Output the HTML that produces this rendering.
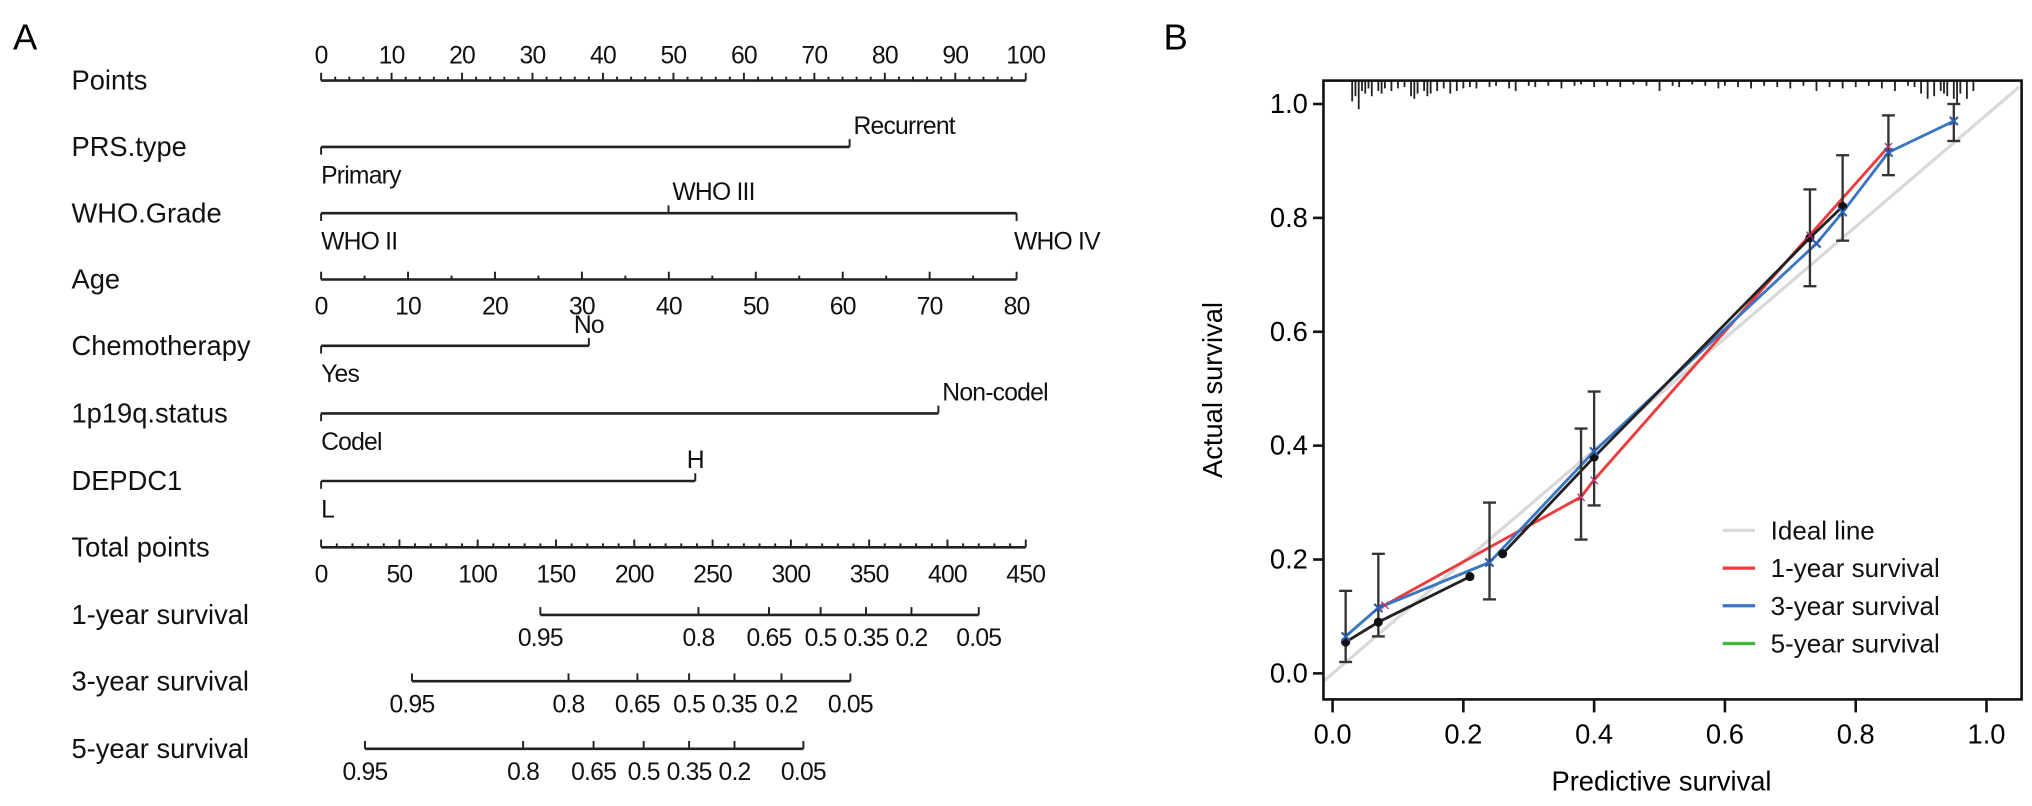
<!DOCTYPE html>
<html><head><meta charset="utf-8"><style>
html,body{margin:0;padding:0;background:#fff;}
svg{display:block;font-family:"Liberation Sans",Arial,sans-serif;}
</style></head><body>
<svg id="fig" width="2032" height="806" viewBox="0 0 1563 620" preserveAspectRatio="none" xmlns="http://www.w3.org/2000/svg">
<g id="nomo"></g>
<g id="cal"></g>
</svg>
<script>
// ---------- Nomogram data ----------
const rowLabels = ["Points","PRS.type","WHO.Grade","Age","Chemotherapy","1p19q.status","DEPDC1","Total points","1-year survival","3-year survival","5-year survival"];
const pointTicks = [0,10,20,30,40,50,60,70,80,90,100];
const prsPoints = [0,75];            const prsLabels = ["Primary","Recurrent"];
const whoPoints = [0,49.3,98.7];     const whoLabels = ["WHO II","WHO III","WHO IV"];
const ageTicks = [0,10,20,30,40,50,60,70,80];  const ageMaxPoints = 98.7;
const chemoPoints = [0,38];          const chemoLabels = ["Yes","No"];
const codelPoints = [0,87.6];        const codelLabels = ["Codel","Non-codel"];
const depdcPoints = [0,53.1];        const depdcLabels = ["L","H"];
const totalTicks = [0,50,100,150,200,250,300,350,400,450];
const survLabels = ["0.95","0.8","0.65","0.5","0.35","0.2","0.05"];
const surv1Total = [140,241,286,319,348,377,420];
const surv3Total = [58,158,202,235,264,294,338];
const surv5Total = [28,129,174,206,235,264,308];

// ---------- Calibration data ----------
const idealLine = [[-0.014,-0.014],[1.05,1.03]];
const rugX = [0.03,0.035,0.04,0.045,0.05,0.055,0.06,0.07,0.075,0.08,0.09,0.1,0.11,0.12,0.125,0.13,0.14,0.145,0.15,0.16,0.17,0.18,0.19,0.2,0.21,0.22,0.24,0.25,0.27,0.28,0.3,0.31,0.33,0.35,0.37,0.38,0.4,0.42,0.44,0.46,0.48,0.5,0.52,0.53,0.55,0.57,0.59,0.6,0.62,0.64,0.66,0.68,0.7,0.72,0.74,0.76,0.78,0.8,0.82,0.84,0.86,0.88,0.89,0.9,0.91,0.92,0.93,0.935,0.94,0.95,0.955,0.96,0.97,0.98];
const rugLen = [16,12,22,8,10,6,12,8,10,6,8,6,5,12,14,10,8,12,10,8,6,10,8,6,5,6,5,4,6,8,4,5,4,6,4,3,5,4,5,3,4,8,4,5,3,4,6,4,5,6,4,5,6,4,8,5,6,5,4,6,8,4,5,10,14,12,8,10,12,14,18,10,14,8];
const oneYear = [[0.08,0.12],[0.38,0.31],[0.40,0.34],[0.73,0.77],[0.85,0.925]];
const threeYear = [[0.02,0.065],[0.07,0.115],[0.24,0.195],[0.40,0.39],[0.74,0.755],[0.78,0.81],[0.85,0.915],[0.95,0.97]];
const apparent = [[0.02,0.055],[0.07,0.09],[0.21,0.17],null,[0.26,0.21],[0.40,0.38],[0.73,0.765],[0.78,0.82]];
const errX = [0.02,0.07,0.24,0.38,0.40,0.73,0.78,0.85,0.95];
const errLo = [0.02,0.065,0.13,0.235,0.295,0.68,0.76,0.875,0.935];
const errHi = [0.145,0.21,0.30,0.43,0.495,0.85,0.91,0.98,1.0];
const calTicks = [0,0.2,0.4,0.6,0.8,1.0];
const legendLabels = ["Ideal line","1-year survival","3-year survival","5-year survival"];
const legendColors = ["#d9d9d9","#ee3b3b","#3a76c4","#3cb83c"];

const NS="http://www.w3.org/2000/svg";
function mk(parent,tag,attrs,text){const e=document.createElementNS(NS,tag);for(const k in attrs)e.setAttribute(k,attrs[k]);if(text!==undefined)e.textContent=text;parent.appendChild(e);return e;}

// ---------- Panel A ----------
const A=document.getElementById('nomo');
let t=mk(A,'text',{x:10,y:38,'font-size':28});t.textContent="A";

const rowY=[62,113,164,215,266,318,370,421,473,524,576];
const px=p=>247+p*5.42;
const tx=v=>247+v*542/450;
rowLabels.forEach((l,i)=>{const e=mk(A,'text',{x:55,y:rowY[i]+7,'font-size':21,fill:'#111'},l);
});
const stroke={stroke:'#222','stroke-width':2,fill:'none'};
function hline(y,x1,x2){const e=mk(A,'line',Object.assign({x1:x1,x2:x2,y1:y,y2:y},stroke));}
function tick(x,y,len){const e=mk(A,'line',{x1:x,x2:x,y1:y,y2:y+len,stroke:'#222','stroke-width':1.5});}
function lab(x,y,s,anchor){const e=mk(A,'text',{x:x,y:y,'font-size':19,fill:'#111','text-anchor':anchor||'middle','letter-spacing':'-0.6'},s);}
hline(rowY[0],px(0),px(100));
for(let p=0;p<=100;p+=2)tick(px(p),rowY[0],p%10===0?-6:-3);
pointTicks.forEach(p=>lab(px(p),rowY[0]-13,String(p)));
function catRow(y,pts,labels){hline(y,px(pts[0]),px(pts[pts.length-1]));
 pts.forEach((p,i)=>{const up=(i===1);tick(px(p),y,up?-6:6);
  if(up)lab(px(p)+(labels[i].length>2?3:0),y-10,labels[i],labels[i].length>2?'start':'middle');
  else lab(px(p)+(i===0?0:-2),y+28,labels[i],'start');});}
catRow(rowY[1],prsPoints,prsLabels);
catRow(rowY[2],whoPoints,whoLabels);
catRow(rowY[4],chemoPoints,chemoLabels);
catRow(rowY[5],codelPoints,codelLabels);
catRow(rowY[6],depdcPoints,depdcLabels);
hline(rowY[3],px(0),px(ageMaxPoints));
for(let a=0;a<=80;a+=5)tick(px(a/80*ageMaxPoints),rowY[3],a%10===0?-6:-3);
ageTicks.forEach(a=>lab(px(a/80*ageMaxPoints),rowY[3]+27,String(a)));
hline(rowY[7],tx(0),tx(450));
for(let v=0;v<=450;v+=10)tick(tx(v),rowY[7],v%50===0?-6:-3);
totalTicks.forEach(v=>lab(tx(v),rowY[7]+27,String(v)));
[[rowY[8],surv1Total],[rowY[9],surv3Total],[rowY[10],surv5Total]].forEach(([y,arr])=>{
 hline(y,tx(arr[0]),tx(arr[arr.length-1]));
 arr.forEach((v,i)=>{tick(tx(v),y,-6);lab(tx(v),y+24,survLabels[i]);});});

// ---------- Panel B ----------
const B=document.getElementById('cal');
t=mk(B,'text',{x:895,y:38,'font-size':28});t.textContent="B";

const X=v=>1025+v*503, Y=v=>518-v*438;
const L=1018,R=1555,T=62,Bt=538;
let e=mk(B,'line',{x1:X(idealLine[0][0]),y1:Y(idealLine[0][1]),x2:X(idealLine[1][0]),y2:Y(idealLine[1][1]),stroke:'#d9d9d9','stroke-width':2.5});

rugX.forEach((v,i)=>{const r=mk(B,'line',{x1:X(v),x2:X(v),y1:T,y2:T+rugLen[i],stroke:'#222','stroke-width':1.4});
});
function poly(pts,color,name){let segs=[[]];pts.forEach(p=>{if(p===null)segs.push([]);else segs[segs.length-1].push(p);});
 segs.forEach(s=>{if(s.length<2)return;const pl=mk(B,'polyline',{points:s.map(p=>X(p[0])+','+Y(p[1])).join(' '),fill:'none',stroke:color,'stroke-width':2.2});
 });}
poly(oneYear,'#ee3b3b','one-year-line');
poly(threeYear,'#3a76c4','three-year-line');
poly(apparent,'#222','apparent-line');
errX.forEach((v,i)=>{const g=mk(B,'g',{});
 mk(g,'line',{x1:X(v),x2:X(v),y1:Y(errLo[i]),y2:Y(errHi[i]),stroke:'#333','stroke-width':1.8});
 mk(g,'line',{x1:X(v)-5,x2:X(v)+5,y1:Y(errLo[i]),y2:Y(errLo[i]),stroke:'#333','stroke-width':1.8});
 mk(g,'line',{x1:X(v)-5,x2:X(v)+5,y1:Y(errHi[i]),y2:Y(errHi[i]),stroke:'#333','stroke-width':1.8});});
apparent.forEach(p=>{if(!p)return;const c=mk(B,'circle',{cx:X(p[0]),cy:Y(p[1]),r:3.5,fill:'#111'});});
oneYear.forEach(p=>{const c=mk(B,'text',{x:X(p[0]),y:Y(p[1])+5,'font-size':14,'text-anchor':'middle',fill:'#c0306a'},'×');});
threeYear.forEach(p=>{const c=mk(B,'text',{x:X(p[0]),y:Y(p[1])+5,'font-size':15,'text-anchor':'middle',fill:'#2a5fb0','font-weight':'bold'},'×');});
e=mk(B,'rect',{x:L,y:T,width:R-L,height:Bt-T,fill:'none',stroke:'#111','stroke-width':2});

calTicks.forEach(v=>{
 let a=mk(B,'line',{x1:L-8,x2:L,y1:Y(v),y2:Y(v),stroke:'#111','stroke-width':2});
 a=mk(B,'text',{x:L-12,y:Y(v)+7,'font-size':21,'text-anchor':'end'},v.toFixed(1));
 a=mk(B,'line',{x1:X(v),x2:X(v),y1:Bt,y2:Bt+10,stroke:'#111','stroke-width':2});
 a=mk(B,'text',{x:X(v),y:Bt+34,'font-size':21,'text-anchor':'middle'},v.toFixed(1));
});
e=mk(B,'text',{x:1278,y:608,'font-size':21,'text-anchor':'middle'},'Predictive survival');
e=mk(B,'text',{x:0,y:0,'font-size':21,'text-anchor':'middle',transform:'translate(940,300) rotate(-90)'},'Actual survival');
legendLabels.forEach((l,i)=>{const g=mk(B,'g',{});
 const y=408+i*29;mk(g,'line',{x1:1325,x2:1350,y1:y,y2:y,stroke:legendColors[i],'stroke-width':2.5});
 mk(g,'text',{x:1362,y:y+7,'font-size':20,fill:'#111'},l);});
</script>
</body></html>
